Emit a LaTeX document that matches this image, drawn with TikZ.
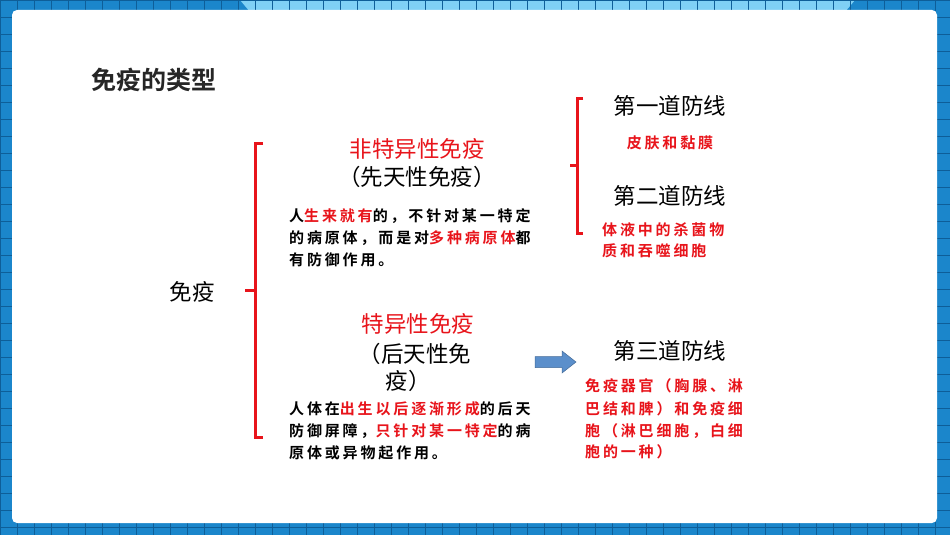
\documentclass[tikz,border=0pt]{standalone}
\usepackage{fontspec}
\setmainfont{Noto Sans CJK SC}
\newfontfamily\cjk{Noto Sans CJK SC}
\newfontfamily\cjkb[LetterSpace=19]{Noto Sans CJK SC Bold}
\newfontfamily\cjkt{Noto Sans CJK SC Bold}
\definecolor{bg}{HTML}{1B86CB}
\definecolor{bgl}{HTML}{7FD0F5}
\definecolor{gridc}{HTML}{0E5E98}
\definecolor{rd}{HTML}{E8141B}
\definecolor{arr}{HTML}{5B8FCB}
\begin{document}
\begin{tikzpicture}[x=1pt,y=-1pt,
  head/.style={font=\cjk\fontsize{22.5}{26}\selectfont,inner sep=0},
  body/.style={font=\cjkb\fontsize{15}{17}\selectfont,inner sep=0,anchor=west},
  brk/.style={draw=rd,line width=3pt}]
\useasboundingbox (0,0) rectangle (950,535);
\fill[bg] (0,0) rectangle (950,535);
\fill[bgl] (240,0) -- (855,0) -- (845,12) -- (250,12) -- cycle;
\foreach \x in {0,17,...,950} \draw[gridc,line width=0.8pt] (\x,0) -- (\x,535);
\foreach \y in {0,17,...,535} \draw[gridc,line width=0.8pt] (0,\y) -- (950,\y);
\fill[white,rounded corners=5pt] (12,10) rectangle (937,523);
\node[font=\cjkt\fontsize{25}{28}\selectfont,text=black!85] (title) at (154,80) {免疫的类型};
% left bracket
\draw[brk] (263,143) -- (255,143) -- (255,437) -- (263,437);
\draw[brk] (255,290) -- (245,290);
\node[head] (imm) at (192,292) {免疫};
\node[head,text=rd] (n1) at (417,149) {非特异性免疫};
\node[head] (n1b) at (417,177) {（先天性免疫）};
\node[body] (p1a) at (289,216) {人\textcolor{rd}{生来就有}的，不针对某一特定};
\node[body] (p1b) at (289,238) {的病原体，而是对\textcolor{rd}{多种病原体}都};
\node[body] (p1c) at (289,260) {有防御作用。};
\node[head,text=rd] (n2) at (418,324) {特异性免疫};
\node[head] (n2b) at (415,354) {（后天性免};
\node[head] (n2c) at (408,381) {疫）};
\node[body] (p2a) at (289,409) {人体在\textcolor{rd}{出生以后逐渐形成}的后天};
\node[body] (p2b) at (289,431) {防御屏障，\textcolor{rd}{只针对某一特定}的病};
\node[body] (p2c) at (289,453) {原体或异物起作用。};
% arrow
\coordinate (ar) at (535,351);
\filldraw[fill=arr,draw=arr!75!black,line width=0.5pt] ([yshift=-5.5pt]ar) -- ++(27,0) -- ++(0,-5.5) -- ++(14,11) -- ++(-14,11) -- ++(0,-5.5) -- ++(-27,0) -- cycle;
% right bracket
\draw[brk] (583,98) -- (577,98) -- (577,233) -- (583,233);
\draw[brk] (577,165) -- (570,165);
\node[head] (l1) at (670,106) {第一道防线};
\node[body,anchor=center,text=rd] (l1t) at (670,143) {皮肤和黏膜};
\node[head] (l2) at (670,196) {第二道防线};
\node[body,text=rd] (l2a) at (602,230) {体液中的杀菌物};
\node[body,text=rd] (l2b) at (602,251) {质和吞噬细胞};
\node[head] (l3) at (670,351) {第三道防线};
\node[body,text=rd] (l3a) at (585,386) {免疫器官（胸腺、淋};
\node[body,text=rd] (l3b) at (585,409) {巴结和脾）和免疫细};
\node[body,text=rd] (l3c) at (585,431) {胞（淋巴细胞，白细};
\node[body,text=rd] (l3d) at (585,452) {胞的一种）};
\end{tikzpicture}
\end{document}
